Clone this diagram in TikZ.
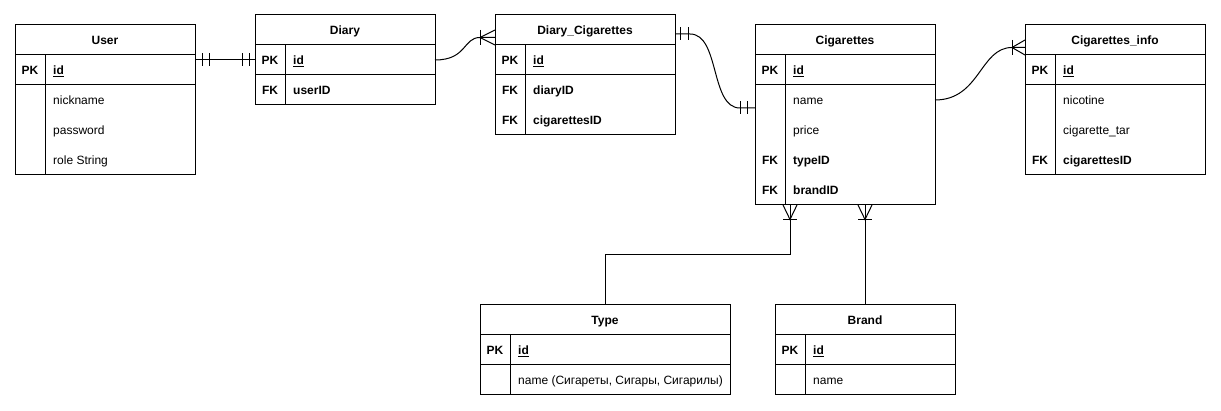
\documentclass[tikz,border=0pt]{standalone}
\usepackage{fontspec}
\setmainfont{Liberation Sans}
\usetikzlibrary{calc}
\tikzset{
  tbl/.style={draw, line width=1pt, anchor=north west, inner sep=0pt, outer sep=0pt},
  rule/.style={line width=1pt},
  link/.style={line width=1pt},
  hdr/.style={anchor=base, inner sep=0pt, font=\bfseries\fontsize{12}{14}\selectfont},
  keyt/.style={anchor=base, inner sep=0pt, font=\bfseries\fontsize{12}{14}\selectfont},
  att/.style={anchor=base west, inner sep=0pt, font=\fontsize{12}{14}\selectfont},
  fkatt/.style={anchor=base west, inner sep=0pt, font=\bfseries\fontsize{12}{14}\selectfont},
}
\newcommand\erFootDown[1]{%
  \draw[link] ($(#1)+(-7,0)$) -- ($(#1)+(0,14.5)$) -- ($(#1)+(7,0)$);
  \draw[link] ($(#1)+(-7,14.5)$) -- ($(#1)+(7,14.5)$);}
\newcommand\erFootLeft[2]{%
  \draw[link] ($(#1)+(0,-7.5)$) -- ($(#1)+(-#2,0)$) -- ($(#1)+(0,7.5)$);
  \draw[link] ($(#1)+(-#2,-7.5)$) -- ($(#1)+(-#2,7.5)$);}
\newcommand\erBar[2]{%
  \draw[link] ($(#1)+(#2,-6.5)$) -- ($(#1)+(#2,6.5)$);}
\begin{document}
\begin{tikzpicture}[x=1pt,y=-1pt]
\useasboundingbox (0,0) rectangle (1221,411);

% ---------- User ----------
\node[tbl, minimum width=180pt, minimum height=150pt] (user) at (15,25) {};
\draw[rule] (15,55) -- (195,55) (15,85) -- (195,85) (45,55) -- (45,175);
\node[hdr] (user-t) at (105,44.3) {User};
\node[keyt] (user-pk) at (30,74.3) {PK};
\node[fkatt] (user-id) at (53,74.3) {\underline{id}};
\node[att] (user-a1) at (53,104.3) {nickname};
\node[att] (user-a2) at (53,134.3) {password};
\node[att] (user-a3) at (53,164.3) {role String};

% ---------- Diary ----------
\node[tbl, minimum width=180pt, minimum height=90pt] (diary) at (255,15) {};
\draw[rule] (255,45) -- (435,45) (255,75) -- (435,75) (285,45) -- (285,105);
\node[hdr] (diary-t) at (345,34.3) {Diary};
\node[keyt] (diary-pk) at (270,64.3) {PK};
\node[fkatt] (diary-id) at (293,64.3) {\underline{id}};
\node[keyt] (diary-fk) at (270,94.3) {FK};
\node[fkatt] (diary-a1) at (293,94.3) {userID};

% ---------- Diary_Cigarettes ----------
\node[tbl, minimum width=180pt, minimum height=120pt] (dc) at (495,15) {};
\draw[rule] (495,45) -- (675,45) (495,75) -- (675,75) (525,45) -- (525,135);
\node[hdr] (dc-t) at (585,34.3) {Diary\_Cigarettes};
\node[keyt] (dc-pk) at (510,64.3) {PK};
\node[fkatt] (dc-id) at (533,64.3) {\underline{id}};
\node[keyt] (dc-fk1) at (510,94.3) {FK};
\node[fkatt] (dc-a1) at (533,94.3) {diaryID};
\node[keyt] (dc-fk2) at (510,124.3) {FK};
\node[fkatt] (dc-a2) at (533,124.3) {cigarettesID};

% ---------- Cigarettes ----------
\node[tbl, minimum width=180pt, minimum height=180pt] (cig) at (755,25) {};
\draw[rule] (755,55) -- (935,55) (755,85) -- (935,85) (785,55) -- (785,205);
\node[hdr] (cig-t) at (845,44.3) {Cigarettes};
\node[keyt] (cig-pk) at (770,74.3) {PK};
\node[fkatt] (cig-id) at (793,74.3) {\underline{id}};
\node[att] (cig-a1) at (793,104.3) {name};
\node[att] (cig-a2) at (793,134.3) {price};
\node[keyt] (cig-fk1) at (770,164.3) {FK};
\node[fkatt] (cig-a3) at (793,164.3) {typeID};
\node[keyt] (cig-fk2) at (770,194.3) {FK};
\node[fkatt] (cig-a4) at (793,194.3) {brandID};

% ---------- Cigarettes_info ----------
\node[tbl, minimum width=180pt, minimum height=150pt] (info) at (1025,25) {};
\draw[rule] (1025,55) -- (1205,55) (1025,85) -- (1205,85) (1055,55) -- (1055,175);
\node[hdr] (info-t) at (1115,44.3) {Cigarettes\_info};
\node[keyt] (info-pk) at (1040,74.3) {PK};
\node[fkatt] (info-id) at (1063,74.3) {\underline{id}};
\node[att] (info-a1) at (1063,104.3) {nicotine};
\node[att] (info-a2) at (1063,134.3) {cigarette\_tar};
\node[keyt] (info-fk) at (1040,164.3) {FK};
\node[fkatt] (info-a3) at (1063,164.3) {cigarettesID};

% ---------- Type ----------
\node[tbl, minimum width=250pt, minimum height=90pt] (type) at (480,305) {};
\draw[rule] (480,335) -- (730,335) (480,365) -- (730,365) (510,335) -- (510,395);
\node[hdr] (type-t) at (605,324.3) {Type};
\node[keyt] (type-pk) at (495,354.3) {PK};
\node[fkatt] (type-id) at (518,354.3) {\underline{id}};
\node[att] (type-a1) at (518,384.3) {name (Сигареты, Сигары, Сигарилы)};

% ---------- Brand ----------
\node[tbl, minimum width=180pt, minimum height=90pt] (brand) at (775,305) {};
\draw[rule] (775,335) -- (955,335) (775,365) -- (955,365) (805,335) -- (805,395);
\node[hdr] (brand-t) at (865,324.3) {Brand};
\node[keyt] (brand-pk) at (790,354.3) {PK};
\node[fkatt] (brand-id) at (813,354.3) {\underline{id}};
\node[att] (brand-a1) at (813,384.3) {name};

% ---------- Connectors ----------
% User -- Diary
\coordinate (e1) at ($(diary.north west)+(0,45)$);
\coordinate (u1) at (user.east |- e1);
\draw[link] (u1) -- (e1);
\erBar{u1}{7} \erBar{u1}{14}
\erBar{e1}{-6} \erBar{e1}{-13}

% Diary -- Diary_Cigarettes
\coordinate (d2) at ($(diary.north east)+(0,45)$);
\coordinate (dc2) at ($(dc.north west)+(0,22.5)$);
\draw[link] (d2) .. controls ($(d2)+(32,0)$) and ($(dc2)+(-32,0)$) .. ($(dc2)+(-15,0)$) -- (dc2);
\erFootLeft{dc2}{15}

% Diary_Cigarettes -- Cigarettes
\coordinate (dc3) at ($(dc.north east)+(0,19)$);
\coordinate (c3) at ($(cig.north west)+(0,83)$);
\draw[link] (dc3) -- ($(dc3)+(15,0)$) .. controls ($(dc3)+(45,0)$) and ($(c3)+(-45,0)$) .. ($(c3)+(-15,0)$) -- (c3);
\erBar{dc3}{5} \erBar{dc3}{13}
\erBar{c3}{-8} \erBar{c3}{-15}

% Cigarettes -- Cigarettes_info
\coordinate (c4) at ($(cig.north east)+(0,75)$);
\coordinate (i4) at ($(info.north west)+(0,22.5)$);
\draw[link] (c4) .. controls ($(c4)+(45,0)$) and ($(i4)+(-45,0)$) .. ($(i4)+(-13,0)$) -- (i4);
\erFootLeft{i4}{13}

% Cigarettes -- Type
\coordinate (t5) at ($(cig.south west)+(35,0)$);
\draw[link] (t5) -- ($(t5)+(0,50)$) -| (type.north);
\erFootDown{t5}

% Cigarettes -- Brand
\coordinate (b6) at (brand.north |- cig.south);
\draw[link] (b6) -- (brand.north);
\erFootDown{b6}
\end{tikzpicture}
\end{document}
